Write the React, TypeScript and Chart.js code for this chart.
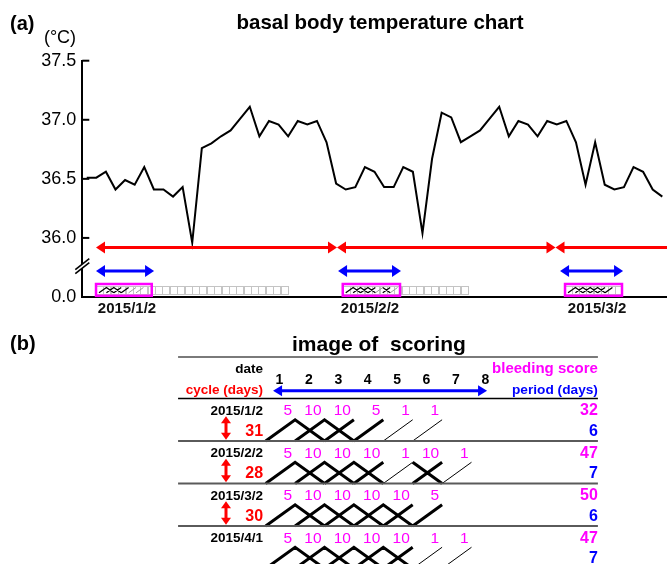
import React, { useEffect, useRef } from 'react';
import { Chart, registerables } from 'chart.js';

Chart.register(...registerables);

const FONT = "'Liberation Sans', Arial, Helvetica, sans-serif";
const RED = '#ff0000';
const BLUE = '#0000ff';
const MAGENTA = '#ff00ff';

// ---------------- (a) basal body temperature ----------------
const temperatures = [
  36.51, 36.51, 36.56, 36.41, 36.49, 36.45, 36.6, 36.41, 36.41, 36.35,
  36.43, 35.96, 36.76, 36.8, 36.86, 36.91, 37.01, 37.11, 36.86, 36.99,
  36.96, 36.86, 36.99, 36.96, 36.99, 36.81, 36.46, 36.41, 36.43, 36.6,
  36.56, 36.43, 36.43, 36.6, 36.56, 36.04, 36.67, 37.06, 37.02, 36.81,
  36.86, 36.91, 37.01, 37.11, 36.86, 36.99, 36.96, 36.86, 36.99, 36.96,
  36.99, 36.81, 36.45, 36.81, 36.45, 36.41, 36.43, 36.6, 36.56, 36.41, 36.35,
];
const yTickValues = [35.5, 36.0, 36.5, 37.0, 37.5];
const yTickLabels = ['0.0', '36.0', '36.5', '37.0', '37.5'];
const cycleDateLabels = ['2015/1/2', '2015/2/2', '2015/3/2'];
const cycleDateDay = [4.2, 29.53, 53.2];
const cycleArrowFrom = [0.97, 26.09, 48.87];
const cycleArrowTo = [26.09, 48.87, 61.6];
const periodArrowFrom = [0.97, 26.2, 49.34];
const periodArrowTo = [7.02, 32.76, 55.91];
const periodBoxFrom = [0.97, 26.69, 49.86];
const periodBoxTo = [6.78, 32.66, 55.8];
const recordGridTo = [20.98, 39.75, 55.8];
const cycleArrowLevel = 35.92;
const periodArrowLevel = 35.72;
const boxHigh = 35.61;
const boxLow = 35.51;
const axisBreakLevel = 35.775;

// ---------------- (b) image of scoring ----------------
const scoreDates = ['2015/1/2', '2015/2/2', '2015/3/2', '2015/4/1'];
const cycleDays = [31, 28, 30, null];
const dailyScores = [
  [5, 10, 10, 5, 1, 1],
  [5, 10, 10, 10, 1, 10, 1],
  [5, 10, 10, 10, 10, 5],
  [5, 10, 10, 10, 10, 1, 1],
];
const totalScores = [32, 47, 50, 47];
const periodDays = [6, 7, 6, 7];
const dayNumbers = ['1', '2', '3', '4', '5', '6', '7', '8'];
// strokes per day column (column index = day - 1)
const upThick = [[0, 1, 2, 3], [0, 1, 2, 3, 5], [0, 1, 2, 3, 4, 5], [0, 1, 2, 3, 4]];
const downThick = [[1, 2], [1, 2, 3, 5], [1, 2, 3, 4], [1, 2, 3, 4]];
const upThin = [[4, 5], [4, 6], [], [5, 6]];

type Pt = { x: number; y: number | null };

function rowStrokes(r: number, top: number, bottom: number) {
  const thick: Pt[] = [];
  const thin: Pt[] = [];
  const used = new Set<number>();
  upThick[r].forEach((c) => {
    thick.push({ x: c, y: bottom }, { x: c + 1, y: top });
    if (downThick[r].includes(c + 1)) {
      thick.push({ x: c + 2, y: bottom });
      used.add(c + 1);
    }
    thick.push({ x: c, y: null });
  });
  downThick[r].filter((c) => !used.has(c)).forEach((c) => {
    thick.push({ x: c, y: top }, { x: c + 1, y: bottom }, { x: c, y: null });
  });
  upThin[r].forEach((c) => {
    thin.push({ x: c, y: bottom }, { x: c + 1, y: top }, { x: c, y: null });
  });
  return { thick, thin };
}

function arrowH(ctx: CanvasRenderingContext2D, x1: number, x2: number, y: number, color: string, lw: number, hl: number, hw: number, left = true, right = true) {
  ctx.save();
  ctx.strokeStyle = color;
  ctx.fillStyle = color;
  ctx.lineWidth = lw;
  ctx.beginPath();
  ctx.moveTo(left ? x1 + hl - 1 : x1, y);
  ctx.lineTo(right ? x2 - hl + 1 : x2, y);
  ctx.stroke();
  if (left) {
    ctx.beginPath();
    ctx.moveTo(x1, y);
    ctx.lineTo(x1 + hl, y - hw);
    ctx.lineTo(x1 + hl, y + hw);
    ctx.closePath();
    ctx.fill();
  }
  if (right) {
    ctx.beginPath();
    ctx.moveTo(x2, y);
    ctx.lineTo(x2 - hl, y - hw);
    ctx.lineTo(x2 - hl, y + hw);
    ctx.closePath();
    ctx.fill();
  }
  ctx.restore();
}

function arrowV(ctx: CanvasRenderingContext2D, x: number, y1: number, y2: number, color: string, lw: number, hl: number, hw: number) {
  ctx.save();
  ctx.strokeStyle = color;
  ctx.fillStyle = color;
  ctx.lineWidth = lw;
  ctx.beginPath();
  ctx.moveTo(x, y1 + hl - 1);
  ctx.lineTo(x, y2 - hl + 1);
  ctx.stroke();
  ctx.beginPath();
  ctx.moveTo(x, y1);
  ctx.lineTo(x - hw, y1 + hl);
  ctx.lineTo(x + hw, y1 + hl);
  ctx.closePath();
  ctx.fill();
  ctx.beginPath();
  ctx.moveTo(x, y2);
  ctx.lineTo(x - hw, y2 - hl);
  ctx.lineTo(x + hw, y2 - hl);
  ctx.closePath();
  ctx.fill();
  ctx.restore();
}

const partAPlugin = {
  id: 'partA',
  afterDraw(chart: any) {
    const ctx: CanvasRenderingContext2D = chart.ctx;
    const xs = chart.scales.x;
    const ys = chart.scales.y;
    const px = (v: number) => xs.getPixelForValue(v);
    const py = (v: number) => ys.getPixelForValue(v);
    const area = chart.chartArea;
    ctx.save();
    // texts
    ctx.fillStyle = '#000';
    ctx.font = `bold 20px ${FONT}`;
    ctx.textAlign = 'left';
    ctx.textBaseline = 'middle';
    ctx.fillText('(a)', 10, 24);
    ctx.font = `bold 20.5px ${FONT}`;
    ctx.textAlign = 'center';
    ctx.textBaseline = 'alphabetic';
    ctx.fillText('basal body temperature chart', 380, 28.5);
    ctx.font = `18px ${FONT}`;
    ctx.textBaseline = 'middle';
    ctx.fillText('(°C)', 60, 38);

    // inward ticks
    ctx.strokeStyle = '#000';
    ctx.lineWidth = 2;
    yTickValues.forEach((v) => {
      if (v === yTickValues[0]) return;
      const y = py(v);
      ctx.beginPath();
      ctx.moveTo(area.left, y);
      ctx.lineTo(area.left + 7, y);
      ctx.stroke();
    });

    // axis break
    const by = py(axisBreakLevel);
    const bx = area.left;
    ctx.fillStyle = '#fff';
    ctx.beginPath();
    ctx.moveTo(bx - 6, by + 4);
    ctx.lineTo(bx + 6, by - 5);
    ctx.lineTo(bx + 6, by - 1);
    ctx.lineTo(bx - 6, by + 8);
    ctx.closePath();
    ctx.fill();
    ctx.strokeStyle = '#000';
    ctx.lineWidth = 1.6;
    [0, 4].forEach((o) => {
      ctx.beginPath();
      ctx.moveTo(bx - 7, by + 5 + o);
      ctx.lineTo(bx + 7, by - 6 + o);
      ctx.stroke();
    });

    // arrows
    ctx.save();
    ctx.beginPath();
    ctx.rect(area.left, 0, area.right - area.left, chart.height);
    ctx.clip();
    cycleArrowFrom.forEach((f, i) => {
      arrowH(ctx, px(f), px(cycleArrowTo[i]), py(cycleArrowLevel), RED, 3, 9, 6, true, i < cycleArrowFrom.length - 1);
    });
    periodArrowFrom.forEach((f, i) => {
      arrowH(ctx, px(f), px(periodArrowTo[i]), py(periodArrowLevel), BLUE, 3, 9, 6);
    });
    ctx.restore();

    // record boxes
    const yTop = py(boxHigh);
    const yBot = py(boxLow);
    periodBoxFrom.forEach((f, i) => {
      const x0 = px(f);
      const x1 = px(periodBoxTo[i]);
      const g1 = px(recordGridTo[i]);
      const n = Math.max(1, Math.round((g1 - x0) / 7.3));
      const w = (g1 - x0) / n;
      ctx.strokeStyle = '#c4c4c4';
      ctx.lineWidth = 1;
      for (let k = 0; k < n; k++) {
        ctx.strokeRect(Math.round(x0 + k * w) + 0.5, Math.round(yTop + 2) + 0.5, Math.round(w), Math.round(yBot - yTop - 4));
      }
      // miniature of the scoring pattern
      const cw = 7.4;
      const mx = x0 + 3;
      const mt = yTop + 3.5;
      const mb = yBot - 3;
      const s = rowStrokes(i, 0, 1);
      const drawSet = (pts: Pt[], color: string, lw: number) => {
        ctx.strokeStyle = color;
        ctx.lineWidth = lw;
        ctx.beginPath();
        let pen = false;
        pts.forEach((p) => {
          if (p.y === null) {
            pen = false;
            return;
          }
          const X = mx + p.x * cw;
          const Y = mt + (p.y as number) * (mb - mt);
          if (!pen) {
            ctx.moveTo(X, Y);
            pen = true;
          } else ctx.lineTo(X, Y);
        });
        ctx.stroke();
      };
      drawSet(s.thin, '#9a9a9a', 1);
      drawSet(s.thick, '#000', 1.3);
      ctx.strokeStyle = MAGENTA;
      ctx.lineWidth = 2.5;
      ctx.strokeRect(x0, yTop, x1 - x0, yBot - yTop);
    });
    ctx.restore();
  },
};

// layout of part (b) in its own value units
const COL_LEFT = -2.98;
const COL_RIGHT = 11.3;
const LABEL_RIGHT = -0.09;

const partBPlugin = {
  id: 'partB',
  afterDraw(chart: any) {
    const ctx: CanvasRenderingContext2D = chart.ctx;
    const xs = chart.scales.x;
    const ys = chart.scales.y;
    const px = (v: number) => xs.getPixelForValue(v);
    const py = (v: number) => ys.getPixelForValue(v);
    const text = (s: string, u: number, v: number, font: string, color: string, align: CanvasTextAlign) => {
      ctx.font = `${font} ${FONT}`;
      ctx.fillStyle = color;
      ctx.textAlign = align;
      ctx.textBaseline = 'middle';
      ctx.fillText(s, px(u), py(v));
    };
    ctx.save();
    // table rules
    const rule = (v: number, color: string, lw: number) => {
      ctx.strokeStyle = color;
      ctx.lineWidth = lw;
      ctx.beginPath();
      ctx.moveTo(px(COL_LEFT), py(v));
      ctx.lineTo(px(COL_RIGHT), py(v));
      ctx.stroke();
    };
    rule(-0.976, '#7a7a7a', 2);
    rule(0, '#000', 1.5);
    [1, 2, 3].forEach((v) => rule(v, '#5a5a5a', 2));

    ctx.fillStyle = '#000';
    ctx.font = `bold 20px ${FONT}`;
    ctx.textAlign = 'left';
    ctx.textBaseline = 'middle';
    ctx.fillText('(b)', 10, py(-1.26));
    text('image of  scoring', 3.85, -1.26, 'bold 21px', '#000', 'center');

    text('date', LABEL_RIGHT, -0.694, 'bold 13.5px', '#000', 'right');
    text('cycle (days)', LABEL_RIGHT, -0.2, 'bold 13.5px', RED, 'right');
    dayNumbers.forEach((d, k) => text(d, k + 0.47, -0.435, 'bold 14px', '#000', 'center'));
    arrowH(ctx, px(0.25), px(7.53), py(-0.184), BLUE, 3, 9, 5.5);
    text('bleeding score', COL_RIGHT, -0.694, 'bold 15px', MAGENTA, 'right');
    text('period (days)', COL_RIGHT, -0.184, 'bold 13.7px', BLUE, 'right');

    scoreDates.forEach((d, r) => {
      text(d, LABEL_RIGHT, r + 0.29, 'bold 13.5px', '#000', 'right');
      const c = cycleDays[r];
      if (c !== null) {
        text(String(c), LABEL_RIGHT, r + 0.77, 'bold 16px', RED, 'right');
        arrowV(ctx, px(-1.35), py(r + 0.42), py(r + 0.97), RED, 3, 7, 5);
      }
      dailyScores[r].forEach((s, k) => text(String(s), k + 0.9, r + 0.29, '15.5px', MAGENTA, 'right'));
      text(String(totalScores[r]), COL_RIGHT, r + 0.29, 'bold 16px', MAGENTA, 'right');
      text(String(periodDays[r]), COL_RIGHT, r + 0.77, 'bold 16px', BLUE, 'right');
    });
    ctx.restore();
  },
};

export default function App() {
  const refA = useRef<HTMLCanvasElement>(null);
  const refB = useRef<HTMLCanvasElement>(null);

  useEffect(() => {
    const chartA = new Chart(refA.current as HTMLCanvasElement, {
      type: 'line',
      data: {
        datasets: [
          {
            data: temperatures.map((t, i) => ({ x: i, y: t })),
            borderColor: '#000',
            borderWidth: 2,
            pointRadius: 0,
            tension: 0,
            fill: false,
          },
        ],
      },
      options: {
        animation: false,
        responsive: false,
        maintainAspectRatio: false,
        events: [],
        layout: { padding: { top: 60.7, right: 0, bottom: 0, left: 0 } },
        plugins: { legend: { display: false }, tooltip: { enabled: false }, title: { display: false } },
        scales: {
          x: {
            type: 'linear',
            min: -0.46,
            max: 60.49,
            afterFit: (s: any) => {
              s.height = 33;
            },
            afterBuildTicks: (s: any) => {
              s.ticks = cycleDateDay.map((v) => ({ value: v }));
            },
            ticks: {
              autoSkip: false,
              maxRotation: 0,
              padding: 3,
              color: '#111',
              font: { family: FONT, size: 15, weight: 'bold' },
              callback: (_v: any, i: number) => cycleDateLabels[i],
            },
            grid: { display: false, drawTicks: false },
            border: { display: true, color: '#000', width: 2 },
          },
          y: {
            type: 'linear',
            min: 35.5,
            max: 37.5,
            afterFit: (s: any) => {
              s.width = 82.3;
            },
            afterBuildTicks: (s: any) => {
              s.ticks = yTickValues.map((v) => ({ value: v }));
            },
            ticks: {
              autoSkip: false,
              padding: 6,
              color: '#000',
              font: { family: FONT, size: 18 },
              callback: (_v: any, i: number) => yTickLabels[i],
            },
            grid: { display: false, drawTicks: false },
            border: { display: true, color: '#000', width: 2 },
          },
        },
      } as any,
      plugins: [partAPlugin],
    });

    const datasetsB: any[] = [];
    scoreDates.forEach((_d, r) => {
      const s = rowStrokes(r, r + 0.5, r + 1);
      datasetsB.push({ data: s.thin, borderColor: '#000', borderWidth: 1, pointRadius: 0, tension: 0, spanGaps: false, fill: false });
      datasetsB.push({ data: s.thick, borderColor: '#000', borderWidth: 3, pointRadius: 0, tension: 0, spanGaps: false, fill: false, borderJoinStyle: 'miter' });
    });

    const chartB = new Chart(refB.current as HTMLCanvasElement, {
      type: 'line',
      data: { datasets: datasetsB },
      options: {
        animation: false,
        responsive: false,
        maintainAspectRatio: false,
        events: [],
        layout: { padding: 0 },
        plugins: { legend: { display: false }, tooltip: { enabled: false } },
        scales: {
          x: { type: 'linear', display: false, min: -9.037, max: 13.65 },
          y: { type: 'linear', display: false, reverse: true, min: -1.612, max: 3.894 },
        },
      } as any,
      plugins: [partBPlugin],
    });

    return () => {
      chartA.destroy();
      chartB.destroy();
    };
  }, []);

  return (
    <div style={{ position: 'absolute', left: 0, top: 0, width: 667, height: 564, background: '#fff' }}>
      <canvas ref={refA} width={667} height={330} style={{ position: 'absolute', left: 0, top: 0, display: 'block' }} />
      <canvas ref={refB} width={667} height={234} style={{ position: 'absolute', left: 0, top: 330, display: 'block' }} />
    </div>
  );
}
